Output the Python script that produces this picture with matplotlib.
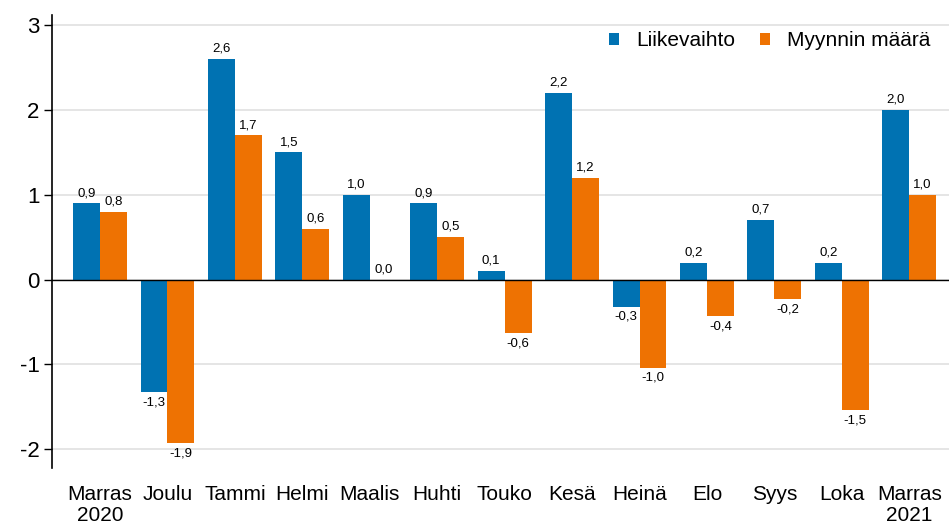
import matplotlib.pyplot as plt
import numpy as np

plt.rcParams['font.family'] = ['Liberation Sans', 'DejaVu Sans']

# kuukaudet
categories = ['Marras\n2020', 'Joulu', 'Tammi', 'Helmi', 'Maalis', 'Huhti', 'Touko',
              'Kesä', 'Heinä', 'Elo', 'Syys', 'Loka', 'Marras\n2021']
liikevaihto = [0.9, -1.33, 2.6, 1.5, 1.0, 0.9, 0.1, 2.2, -0.32, 0.2, 0.7, 0.2, 2.0]
myynnin_maara = [0.8, -1.93, 1.7, 0.6, 0.0, 0.5, -0.63, 1.2, -1.04, -0.43, -0.23, -1.54, 1.0]
series_names = ['Liikevaihto', 'Myynnin määrä']
yticks = [-2, -1, 0, 1, 2, 3]

colors = ['#0072b2', '#ee7202']


def fmt(v):
    return f'{v:.1f}'.replace('.', ',')


fig = plt.figure(figsize=(9.49, 5.27), dpi=100)
ax = fig.add_axes([0.055, 0.112, 0.945, 0.86])

x = np.arange(len(categories))
w = 0.4
for i, (vals, name) in enumerate(zip([liikevaihto, myynnin_maara], series_names)):
    pos = x - w / 2 + i * w
    ax.bar(pos, vals, width=w, color=colors[i], label=name, zorder=2)
    for px, v in zip(pos, vals):
        if v >= 0:
            ax.annotate(fmt(v), (px, v), xytext=(0, 3), textcoords='offset points',
                        ha='center', va='bottom', fontsize=9.5)
        else:
            ax.annotate(fmt(v), (px, v), xytext=(0, -3), textcoords='offset points',
                        ha='center', va='top', fontsize=9.5)

ax.axhline(0, color='black', linewidth=1, zorder=3)
ax.set_ylim(-2.22, 3.12)
ax.set_xlim(-0.71, 12.59)
ax.set_yticks(yticks)
ax.set_yticklabels([str(t) for t in yticks], fontsize=16)
ax.set_xticks(x)
ax.set_xticklabels(categories, fontsize=15, linespacing=1.15)
ax.tick_params(axis='x', length=0, pad=12)
ax.tick_params(axis='y', length=6, width=1, direction='out', pad=3)
ax.yaxis.grid(True, color='#e0e0e0', linewidth=1.2, zorder=0)
ax.set_axisbelow(True)
for s in ['top', 'right', 'bottom']:
    ax.spines[s].set_visible(False)
ax.spines['left'].set_linewidth(1.2)

ax.legend(loc='upper right', frameon=False, ncol=2, fontsize=15, handlelength=0.5,
          handleheight=0.5, columnspacing=1.2, handletextpad=0.8,
          bbox_to_anchor=(1.0, 1.005))

fig.savefig('out.png', dpi=100)
